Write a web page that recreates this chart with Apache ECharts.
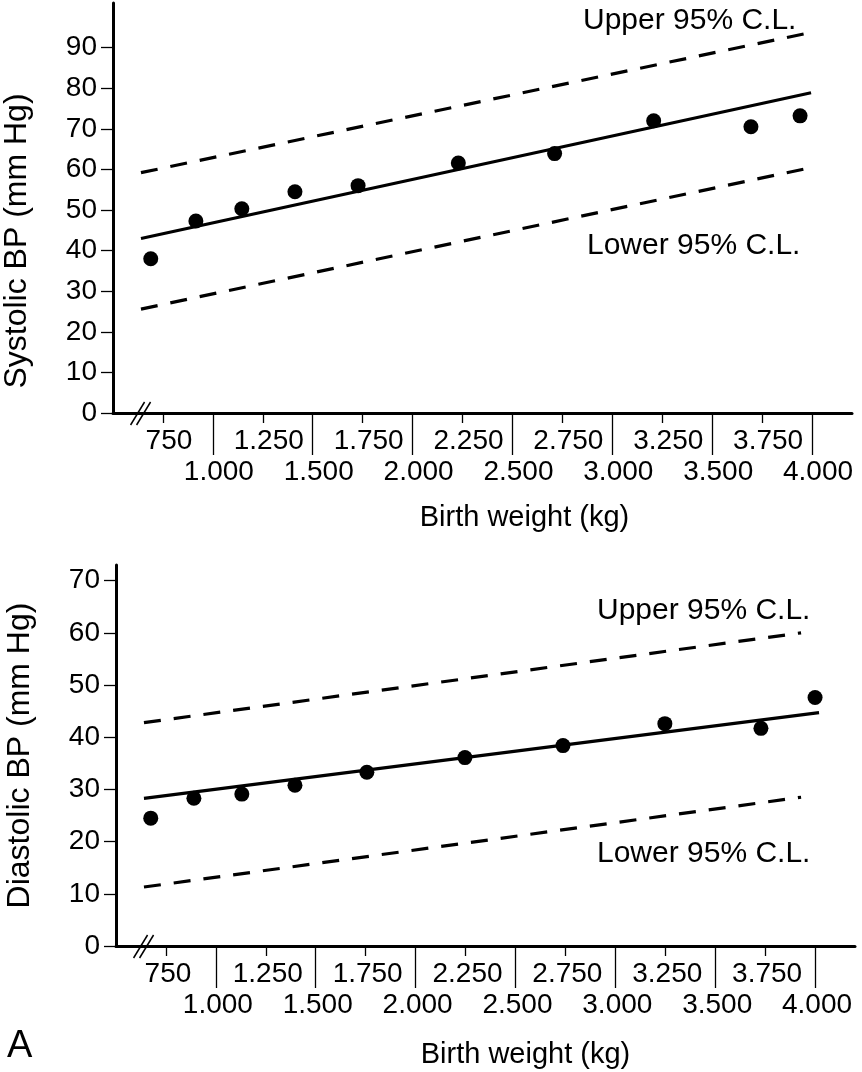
<!DOCTYPE html>
<html>
<head>
<meta charset="utf-8">
<script src="https://cdn.jsdelivr.net/npm/echarts@6/dist/echarts.min.js"></script>
<style>
html,body{margin:0;padding:0;background:#fff;}
#c{width:862px;height:1072px;}
</style>
</head>
<body>
<div id="c"></div>
<script>
// ---- data ----
const xMajorTicks = [1000, 1500, 2000, 2500, 3000, 3500, 4000];
const xMajorLabels = ['1.000', '1.500', '2.000', '2.500', '3.000', '3.500', '4.000'];
const xMinorTicks = [750, 1250, 1750, 2250, 2750, 3250, 3750];
const xMinorLabels = ['750', '1.250', '1.750', '2.250', '2.750', '3.250', '3.750'];
const sysTicks = [0, 10, 20, 30, 40, 50, 60, 70, 80, 90];
const diaTicks = [0, 10, 20, 30, 40, 50, 60, 70];

const sysWeight = [689, 915, 1145, 1411, 1727, 2229, 2711, 3207, 3694, 3940];
const sysBP = [38.0, 47.3, 50.3, 54.5, 56.0, 61.6, 63.9, 72.0, 70.5, 73.2];
const sysFitX = [640, 3995];
const sysFit = [43.0, 78.9];
const sysCLX = [640, 3990];
const sysUpper = [59.2, 93.7];
const sysLower = [25.6, 60.4];

const diaWeight = [674, 890, 1130, 1396, 1756, 2247, 2738, 3248, 3729, 4000];
const diaBP = [24.5, 28.3, 29.1, 30.8, 33.3, 36.1, 38.4, 42.6, 41.7, 47.6];
const diaFitX = [640, 4020];
const diaFit = [28.3, 44.7];
const diaCLX = [640, 3930];
const diaUpper = [42.8, 60.0];
const diaLower = [11.3, 28.5];

const xMin = 500, xMax = 4200;
const breakAt = 638;

// ---- chart ----
const FONT = 'Liberation Sans';
const FS = 28;      // tick labels
const FS_NAME = 29; // x axis name
const FS_YNAME = 32;
const FS_NOTE = 30;
const pair = (xs, ys) => xs.map((x, i) => [x, ys[i]]);
const lab = (ticks, labels) => v => { const i = ticks.indexOf(v); return i < 0 ? '' : labels[i]; };

function majorX(grid, namePad, gap, lp) {
  return {
    type: 'value', gridIndex: grid, position: 'bottom', min: xMin, max: xMax,
    axisLine: { show: true, onZero: false, lineStyle: { color: '#000', width: 3 } },
    axisTick: { show: true, customValues: xMajorTicks, length: 42, lineStyle: { color: '#000', width: 1.3 } },
    axisLabel: { show: true, customValues: xMajorTicks, formatter: lab(xMajorTicks, xMajorLabels),
      margin: 45, color: '#000', fontSize: FS, fontFamily: FONT, padding: [0, 0, 0, lp] },
    splitLine: { show: false },
    name: 'Birth weight (kg)', nameLocation: 'middle', nameGap: gap,
    nameTextStyle: { color: '#000', fontSize: FS_NAME, fontFamily: FONT, padding: [0, 0, 0, namePad] }
  };
}
function minorX(grid, lp) {
  return {
    type: 'value', gridIndex: grid, position: 'bottom', min: xMin, max: xMax,
    axisLine: { show: false, onZero: false },
    axisTick: { show: true, customValues: xMinorTicks, length: 10, lineStyle: { color: '#000', width: 1.3 } },
    axisLabel: { show: true, customValues: xMinorTicks, formatter: lab(xMinorTicks, xMinorLabels),
      margin: 14, color: '#000', fontSize: FS, fontFamily: FONT, padding: [0, 0, 0, lp] },
    splitLine: { show: false }
  };
}
function yAx(grid, max, ticks, name, pad) {
  return {
    type: 'value', gridIndex: grid, min: 0, max: max,
    axisLine: { show: true, onZero: false, lineStyle: { color: '#000', width: 3 } },
    axisTick: { show: true, customValues: ticks, length: 12, lineStyle: { color: '#000', width: 1.3 } },
    axisLabel: { show: true, customValues: ticks, margin: 16, color: '#000', fontSize: FS, fontFamily: FONT },
    splitLine: { show: false },
    name: name, nameLocation: 'middle', nameGap: 80, nameRotate: 90,
    nameTextStyle: { color: '#000', fontSize: FS_YNAME, fontFamily: FONT, padding: pad }
  };
}
function dots(xi, yi, xs, ys) {
  return { type: 'scatter', xAxisIndex: xi, yAxisIndex: yi, data: pair(xs, ys), symbol: 'circle', symbolSize: 15,
    itemStyle: { color: '#000', opacity: 1 }, silent: true };
}
function line(xi, yi, xs, ys, dashed) {
  return { type: 'line', xAxisIndex: xi, yAxisIndex: yi, data: pair(xs, ys), symbol: 'none', smooth: false,
    lineStyle: { color: '#000', width: 3.2, type: dashed ? [17, 13] : 'solid' }, silent: true, animation: false };
}

const chart = echarts.init(document.getElementById('c'), null, { renderer: 'canvas' });
const option = {
  animation: false,
  backgroundColor: '#fff',
  grid: [
    { left: 113, top: 3, width: 739, height: 410, containLabel: false, outerBoundsMode: 'none' },
    { left: 116, top: 565, width: 739, height: 381, containLabel: false, outerBoundsMode: 'none' }
  ],
  xAxis: [majorX(0, 84, 90, 12), minorX(0, 12), majorX(1, 80, 94, 4), minorX(1, 4)],
  yAxis: [
    yAx(0, 101, sysTicks, 'Systolic BP (mm Hg)', [0, 66, 0, 0]),
    yAx(1, 73, diaTicks, 'Diastolic BP (mm Hg)', [0, 0, 0, 0])
  ],
  series: [
    dots(0, 0, sysWeight, sysBP),
    line(0, 0, sysFitX, sysFit, false),
    line(0, 0, sysCLX, sysUpper, true),
    line(0, 0, sysCLX, sysLower, true),
    dots(2, 1, diaWeight, diaBP),
    line(2, 1, diaFitX, diaFit, false),
    line(2, 1, diaCLX, diaUpper, true),
    line(2, 1, diaCLX, diaLower, true)
  ]
};
chart.setOption(option);

const txt = (x, y, s, size) => ({ type: 'text', x: x, y: y,
  style: { text: s, fill: '#000', font: (size || FS_NOTE) + 'px "' + FONT + '"', textAlign: 'left', textVerticalAlign: 'middle' } });
const brk = (xi, yi) => {
  const p = chart.convertToPixel({ xAxisIndex: xi, yAxisIndex: yi }, [breakAt, 0]);
  const mk = dx => ({ type: 'line', shape: { x1: p[0] + dx - 7, y1: p[1] + 12, x2: p[0] + dx + 7, y2: p[1] - 11 },
    style: { stroke: '#000', lineWidth: 1.5 } });
  return [mk(-3), mk(3)];
};
chart.setOption({
  graphic: [
    txt(583, 21, 'Upper 95% C.L.'),
    txt(587, 246, 'Lower 95% C.L.'),
    txt(597, 611, 'Upper 95% C.L.'),
    txt(597, 854, 'Lower 95% C.L.'),
    txt(7, 1047, 'A', 38),
    ...brk(0, 0),
    ...brk(2, 1)
  ]
});
</script>
</body>
</html>
